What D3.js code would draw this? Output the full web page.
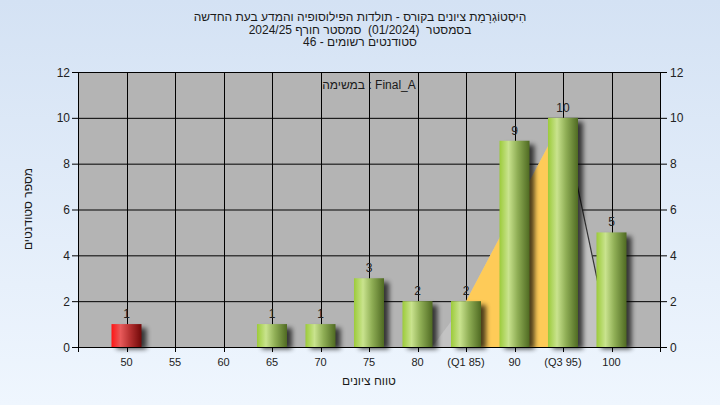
<!DOCTYPE html>
<html><head><meta charset="utf-8">
<script src="https://cdn.jsdelivr.net/npm/d3@7"></script>
<style>html,body{margin:0;padding:0;}svg{display:block;} text{white-space:pre;}</style>
</head><body>
<svg id="c" width="720" height="405"></svg>
<script>
const categories = ["50","55","60","65","70","75","80","(Q1 85)","90","(Q3 95)","100"];
const counts = [1,0,0,1,1,3,2,2,9,10,5];
const failFlags = [true,false,false,false,false,false,false,false,false,false,false];
// spread area (index, value)
const spreadIdx = [6.3,7,8,9,10];
const spreadVal = [0,2,6,10,0];
const yTicks = [0,2,4,6,8,10,12];
const titleLines = ["הִיסְטוֹגְרָמַת ציונים בקורס - תולדות הפילוסופיה והמדע בעת החדשה","בסמסטר  (01/2024)  סמסטר חורף 2024/25","סטודנטים רשומים - 46"];
const legendText = "במשימה : Final_A";
const xTitle = "טווח ציונים";
const yTitle = "מספר סטודנטים";

const svg = d3.select("#c");
const W=720,H=405;
const L=78,R=660,T=72,B=347;
const defs = svg.append("defs");
const bg = defs.append("linearGradient").attr("id","bg").attr("x1",0).attr("y1",0).attr("x2",0).attr("y2",1);
bg.append("stop").attr("offset","0%").attr("stop-color","#d4e2f4");
bg.append("stop").attr("offset","100%").attr("stop-color","#eff6fe");
const gg = defs.append("linearGradient").attr("id","gGreen").attr("x1",0).attr("y1",0).attr("x2",1).attr("y2",0);
[["0%","#9ccb3a"],["30%","#c9e38e"],["60%","#8fae55"],["100%","#4f6a22"]].forEach(s=>gg.append("stop").attr("offset",s[0]).attr("stop-color",s[1]));
const gr = defs.append("linearGradient").attr("id","gRed").attr("x1",0).attr("y1",0).attr("x2",1).attr("y2",0);
[["0%","#ff1515"],["30%","#e85a5a"],["60%","#b83232"],["100%","#700808"]].forEach(s=>gr.append("stop").attr("offset",s[0]).attr("stop-color",s[1]));
const blur = defs.append("filter").attr("id","blur").attr("x","-50%").attr("y","-50%").attr("width","200%").attr("height","200%");
blur.append("feGaussianBlur").attr("stdDeviation",2.5);

svg.append("rect").attr("width",W).attr("height",H).attr("fill","url(#bg)");

const x = d3.scaleLinear().domain([-1,11]).range([L,R]);
const y = d3.scaleLinear().domain([0,12]).range([B,T]);

svg.append("rect").attr("x",L).attr("y",T).attr("width",R-L).attr("height",B-T).attr("fill","#b4b4b4");

// grid
const grid = svg.append("g");
grid.selectAll("line.h").data(yTicks).join("line").attr("x1",L).attr("x2",R).attr("y1",d=>y(d)+0.5).attr("y2",d=>y(d)+0.5).attr("stroke","#000").attr("stroke-width",1);
grid.selectAll("line.v").data(categories.map((c,i)=>i)).join("line").attr("y1",T).attr("y2",B).attr("x1",d=>Math.round(x(d))+0.5).attr("x2",d=>Math.round(x(d))+0.5).attr("stroke","#000").attr("stroke-width",1);

// spread area
const pts = spreadIdx.map((d,i)=>[d,spreadVal[i]]);
const area = d3.area().x(d=>x(d[0])).y0(y(0)).y1(d=>y(d[1]));
svg.append("path").datum(pts).attr("d",area).attr("fill","#c3c3c3");
svg.append("path").datum(pts.slice(1,4)).attr("d",area).attr("fill","#fecb58");
svg.append("path").datum(pts.slice(3,5)).attr("d",d3.line().x(d=>x(d[0])).y(d=>y(d[1]))).attr("fill","none").attr("stroke","#333").attr("stroke-width",1.2);

// bars
const bw = 30;
const data = categories.map((c,i)=>({i,v:counts[i],fail:failFlags[i]})).filter(d=>d.v>0);
svg.append("g").selectAll("rect").data(data).join("rect")
  .attr("x",d=>x(d.i)-bw/2+5).attr("y",d=>y(d.v)+4).attr("width",bw).attr("height",d=>y(0)-y(d.v)-2)
  .attr("fill","#000").attr("opacity",0.7).attr("filter","url(#blur)");
svg.append("g").selectAll("rect").data(data).join("rect")
  .attr("x",d=>x(d.i)-bw/2).attr("y",d=>y(d.v)).attr("width",bw).attr("height",d=>y(0)-y(d.v))
  .attr("fill",d=>d.fail?"url(#gRed)":"url(#gGreen)");
svg.append("g").selectAll("text").data(data).join("text")
  .attr("x",d=>x(d.i)).attr("y",d=>y(d.v)-6).attr("text-anchor","middle")
  .attr("font-family","Liberation Sans, Arial, sans-serif").attr("font-size",12).attr("fill","#222").text(d=>d.v);

// axes
const fam = "Liberation Sans, Arial, sans-serif";
const ax = svg.append("g").attr("font-family",fam).attr("font-size",12).attr("fill","#222");
ax.append("line").attr("x1",L).attr("x2",R).attr("y1",B+0.5).attr("y2",B+0.5).attr("stroke","#000");
ax.append("line").attr("x1",L+0.5).attr("x2",L+0.5).attr("y1",T).attr("y2",B+5).attr("stroke","#000");
ax.append("line").attr("x1",R+0.5).attr("x2",R+0.5).attr("y1",T).attr("y2",B+5).attr("stroke","#000");
ax.selectAll("line.lt").data(yTicks).join("line").attr("x1",L-6).attr("x2",L).attr("y1",d=>y(d)+0.5).attr("y2",d=>y(d)+0.5).attr("stroke","#000");
ax.selectAll("text.lt").data(yTicks).join("text").attr("x",L-8).attr("y",d=>y(d)+4.5).attr("text-anchor","end").text(d=>d);
ax.selectAll("line.rt").data(yTicks).join("line").attr("x1",R).attr("x2",R+7).attr("y1",d=>y(d)+0.5).attr("y2",d=>y(d)+0.5).attr("stroke","#000");
ax.selectAll("text.rt").data(yTicks).join("text").attr("x",R+10).attr("y",d=>y(d)+4.5).attr("text-anchor","start").text(d=>d);
ax.selectAll("line.bt").data(categories.map((c,i)=>i)).join("line").attr("x1",d=>Math.round(x(d))+0.5).attr("x2",d=>Math.round(x(d))+0.5).attr("y1",B).attr("y2",B+5).attr("stroke","#000");
ax.selectAll("text.bt").data(categories).join("text").attr("x",(d,i)=>x(i)).attr("y",B+19).attr("text-anchor","middle").attr("font-size",11).text(d=>d);

// titles
svg.append("g").selectAll("text").data(titleLines).join("text")
  .attr("x",360).attr("y",(d,i)=>21+i*12.5).attr("text-anchor","middle").attr("direction","rtl")
  .attr("font-family",fam).attr("font-size",12).attr("fill","#1a1a1a").text(d=>d);
svg.append("text").attr("x",(L+R)/2).attr("y",89).attr("text-anchor","middle").attr("font-family",fam).attr("font-size",12).attr("fill","#1a1a1a").text(legendText);
svg.append("text").attr("x",(L+R)/2).attr("y",385).attr("text-anchor","middle").attr("direction","rtl").attr("font-family",fam).attr("font-size",12).attr("fill","#1a1a1a").text(xTitle);
svg.append("text").attr("transform","translate(32,209) rotate(-90)").attr("text-anchor","middle").attr("direction","rtl").attr("font-family",fam).attr("font-size",12).attr("fill","#1a1a1a").text(yTitle);
</script>
</body></html>
